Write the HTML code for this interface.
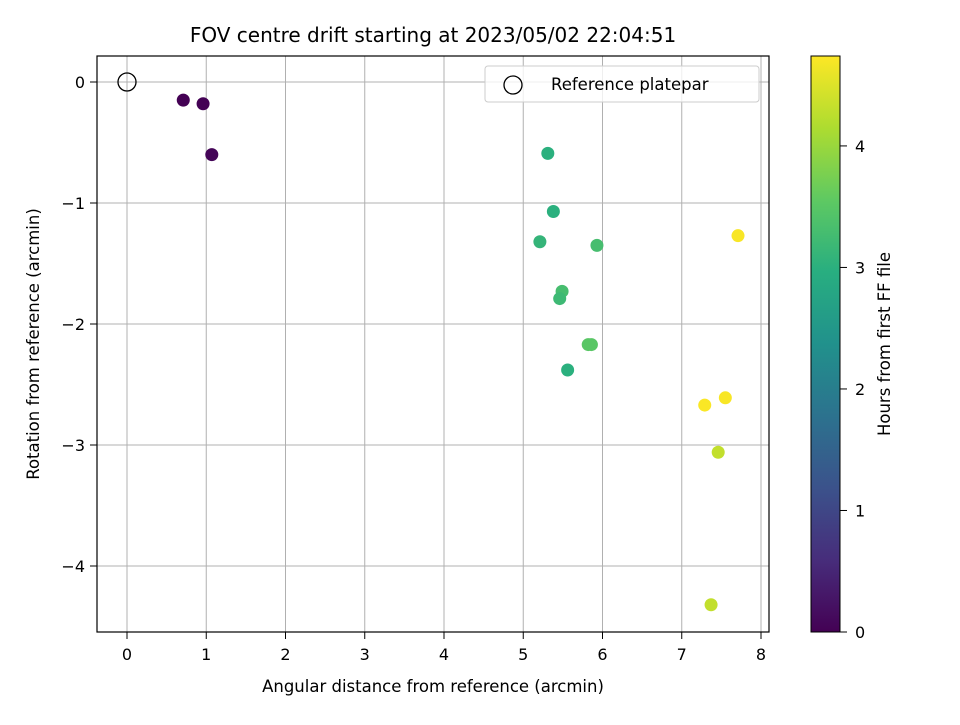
<!DOCTYPE html>
<html><head><meta charset="utf-8"><style>
body{margin:0;background:#fff;}
svg text{font-family:"DejaVu Sans","Liberation Sans",sans-serif;fill:#000;}
</style></head><body>
<svg id="chart" width="960" height="720" viewBox="0 0 960 720">
<defs><linearGradient id="vir" x1="0" y1="1" x2="0" y2="0">
<stop offset="0" stop-color="#440154"/><stop offset="0.125" stop-color="#472d7b"/><stop offset="0.25" stop-color="#3b528b"/><stop offset="0.375" stop-color="#2c728e"/><stop offset="0.5" stop-color="#21918c"/><stop offset="0.625" stop-color="#28ae80"/><stop offset="0.75" stop-color="#5ec962"/><stop offset="0.875" stop-color="#addc30"/><stop offset="1" stop-color="#fde725"/>
</linearGradient></defs>
<text x="433" y="42" font-size="20" text-anchor="middle">FOV centre drift starting at 2023/05/02 22:04:51</text>
<g id="grid"></g>
<g id="points"></g>
<rect x="97" y="56" width="672" height="576" fill="none" stroke="#000" stroke-width="1.2"/>
<g id="ticks"></g>
<text x="433" y="692" font-size="16.5" text-anchor="middle">Angular distance from reference (arcmin)</text>
<text transform="translate(39,344) rotate(-90)" font-size="16.5" text-anchor="middle">Rotation from reference (arcmin)</text>
<g>
<rect x="485" y="66" width="274" height="36" rx="3" fill="#fff" fill-opacity="0.8" stroke="#ccc"/>
<circle cx="513" cy="85" r="9" fill="none" stroke="#000" stroke-width="1.3"/>
<text x="551" y="90" font-size="16.5">Reference platepar</text>
</g>
<rect x="811" y="56" width="29" height="576" fill="url(#vir)" stroke="#000" stroke-width="1"/>
<g id="cbticks"></g>
<text transform="translate(890,344) rotate(-90)" font-size="16.5" text-anchor="middle">Hours from first FF file</text>
</svg>
<script>
const xs=[0.71,0.96,1.07,5.31,5.38,5.21,5.93,5.49,5.46,5.82,5.86,5.56,7.71,7.29,7.55,7.46,7.37];
const ys=[-0.15,-0.18,-0.60,-0.59,-1.07,-1.32,-1.35,-1.73,-1.79,-2.17,-2.17,-2.38,-1.27,-2.67,-2.61,-3.06,-4.32];
const hours=[0.0,0.02,0.05,3.0,3.0,3.1,3.3,3.3,3.2,3.5,3.5,3.0,4.7,4.72,4.7,4.3,4.3];
const xTicks=[0,1,2,3,4,5,6,7,8];
const yTicks=[0,-1,-2,-3,-4];
const cTicks=[0,1,2,3,4];
const cMax=4.74;
const ns="http://www.w3.org/2000/svg";
const X=v=>127+v*79.25, Y=v=>82-v*121, C=v=>632-v/cMax*576;
const stops=[[68,1,84],[71,45,123],[59,82,139],[44,114,142],[33,145,140],[40,174,128],[94,201,98],[173,220,48],[253,231,37]];
function vir(t){t=Math.max(0,Math.min(1,t))*8;const i=Math.min(7,Math.floor(t)),f=t-i;const a=stops[i],b=stops[i+1];return `rgb(${a.map((c,k)=>Math.round(c+(b[k]-c)*f)).join(',')})`;}
function mk(tag,at,parent){const e=document.createElementNS(ns,tag);for(const k in at)e.setAttribute(k,at[k]);document.getElementById(parent).appendChild(e);return e;}
xTicks.forEach(v=>{
 const g=mk('line',{x1:X(v),x2:X(v),y1:56,y2:632,stroke:'#b0b0b0','stroke-width':1},'grid');
 
 const t=mk('line',{x1:X(v),x2:X(v),y1:632,y2:639,stroke:'#000'},'ticks');
 
 const l=mk('text',{x:X(v),y:660,'font-size':16,'text-anchor':'middle'},'ticks');l.textContent=v;
 
});
yTicks.forEach(v=>{
 const g=mk('line',{x1:97,x2:769,y1:Y(v),y2:Y(v),stroke:'#b0b0b0','stroke-width':1},'grid');
 
 const t=mk('line',{x1:90,x2:97,y1:Y(v),y2:Y(v),stroke:'#000'},'ticks');
 
 const l=mk('text',{x:85,y:Y(v)+6,'font-size':16,'text-anchor':'end'},'ticks');l.textContent=v===0?'0':'\u2212'+Math.abs(v);
 
});
cTicks.forEach(v=>{
 const t=mk('line',{x1:840,x2:847,y1:C(v),y2:C(v),stroke:'#000'},'cbticks');
 
 const l=mk('text',{x:855,y:C(v)+6,'font-size':16},'cbticks');l.textContent=v;
 
});
const ref=mk('circle',{cx:X(0),cy:Y(0),r:9,fill:'none',stroke:'#000','stroke-width':1.3},'points');

xs.forEach((v,i)=>{
 const p=mk('circle',{cx:X(v),cy:Y(ys[i]),r:6.5,fill:vir(hours[i]/cMax)},'points');
 
});
</script>
</body></html>
